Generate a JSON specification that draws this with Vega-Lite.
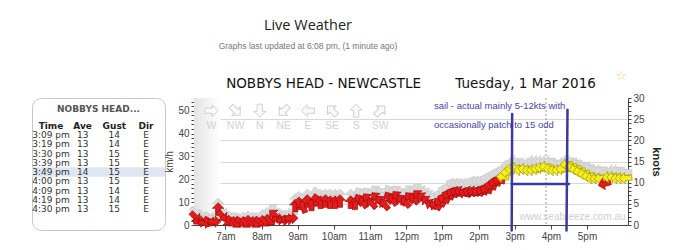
{
  "$schema": "https://vega.github.io/schema/vega-lite/v6.json",
  "background": "white",
  "padding": {"left": 26, "top": 18, "right": 5, "bottom": 5},
  "bounds": "flush",
  "spacing": 29,
  "title": {
    "text": "Live Weather",
    "subtitle": "Graphs last updated at 6:08 pm, (1 minute ago)",
    "font": "Open Sans", "fontSize": 14.5, "fontWeight": "normal", "color": "#222",
    "subtitleFont": "Liberation Sans", "subtitleFontSize": 8.5, "subtitleColor": "#777", "subtitlePadding": 8,
    "anchor": "middle", "dx": -36, "offset": 19
  },
  "config": {"view": {"stroke": null}, "font": "Liberation Sans"},
  "hconcat": [
    {
      "width": 133, "height": 132,
      "view": {"stroke": "#c8c8c8", "cornerRadius": 9, "fill": "white"},
      "title": {"text": "NOBBYS HEAD...", "font": "DejaVu Sans", "fontSize": 9, "fontWeight": "bold", "color": "#555", "offset": -16, "anchor": "middle"},
      "data": {"values": [
        {"row": 0, "Time": "Time", "Ave": "Ave", "Gust": "Gust", "Dir": "Dir"},
        {"row": 1, "Time": "3:09 pm", "Ave": "13", "Gust": "14", "Dir": "E"},
        {"row": 2, "Time": "3:19 pm", "Ave": "13", "Gust": "14", "Dir": "E"},
        {"row": 3, "Time": "3:30 pm", "Ave": "13", "Gust": "15", "Dir": "E"},
        {"row": 4, "Time": "3:39 pm", "Ave": "13", "Gust": "15", "Dir": "E"},
        {"row": 5, "Time": "3:49 pm", "Ave": "14", "Gust": "15", "Dir": "E"},
        {"row": 6, "Time": "4:00 pm", "Ave": "13", "Gust": "15", "Dir": "E"},
        {"row": 7, "Time": "4:09 pm", "Ave": "13", "Gust": "14", "Dir": "E"},
        {"row": 8, "Time": "4:19 pm", "Ave": "13", "Gust": "14", "Dir": "E"},
        {"row": 9, "Time": "4:30 pm", "Ave": "13", "Gust": "15", "Dir": "E"}
      ]},
      "encoding": {
        "y": {"field": "row", "type": "quantitative", "scale": {"domain": [-3, 11.27], "reverse": true, "nice": false, "zero": false}, "axis": null}
      },
      "layer": [
        {
          "transform": [{"filter": "datum.row == 5"}],
          "mark": {"type": "rule", "color": "#dfe6f2", "strokeWidth": 9.5},
          "encoding": {}
        },
        {
          "transform": [{"filter": "datum.row == 0"}, {"fold": ["Time", "Ave", "Gust", "Dir"]}],
          "mark": {"type": "text", "font": "DejaVu Sans", "fontSize": 9, "fontWeight": "bold", "color": "#222"},
          "encoding": {
            "x": {"field": "key", "type": "nominal", "scale": {"type": "point", "domain": ["Time", "Ave", "Gust", "Dir"], "padding": 0.6}, "axis": null},
            "text": {"field": "value"}
          }
        },
        {
          "transform": [{"filter": "datum.row > 0"}, {"fold": ["Time", "Ave", "Gust", "Dir"]}],
          "mark": {"type": "text", "font": "DejaVu Sans", "fontSize": 9, "color": "#333"},
          "encoding": {
            "x": {"field": "key", "type": "nominal", "scale": {"type": "point", "domain": ["Time", "Ave", "Gust", "Dir"], "padding": 0.6}, "axis": null},
            "text": {"field": "value"}
          }
        }
      ]
    },
    {
      "width": 434, "height": 127,
      "title": {"text": "NOBBYS HEAD - NEWCASTLE\u00a0\u00a0\u00a0\u00a0\u00a0\u00a0\u00a0 Tuesday, 1 Mar 2016", "font": "DejaVu Sans", "fontSize": 13.5, "fontWeight": "normal", "color": "#111", "offset": -20, "anchor": "middle"},
      "encoding": {
        "x": {
          "field": "h", "type": "quantitative",
          "scale": {"domain": [6.133, 18.133], "nice": false, "zero": false},
          "axis": {"title": null, "values": [7,8,9,10,11,12,13,14,15,16,17], "labelExpr": "(datum.value % 12 == 0 ? 12 : datum.value % 12) + (datum.value < 12 ? 'am' : 'pm')", "grid": false, "domainColor": "#444", "tickColor": "#444", "tickSize": 4, "labelColor": "#444", "labelFont": "Liberation Sans", "labelFontSize": 10, "labelPadding": 2, "labelFlush": false}
        }
      },
      "resolve": {"scale": {"y": "independent"}},
      "layer": [
        {
          "data": {"values": [{"h": 6.133, "h2": 6.867}]},
          "mark": {"type": "rect", "color": {"gradient": "linear", "x1": 0, "x2": 1, "y1": 0, "y2": 0, "stops": [{"offset": 0, "color": "#e4e4e4"}, {"offset": 1, "color": "#ffffff"}]}},
          "encoding": {"x2": {"field": "h2"}}
        },
        {
          "data": {"values": [{"h": 15.867}]},
          "mark": {"type": "rule", "color": "#999", "strokeDash": [2, 2]},
          "encoding": {}
        },
        {
          "encoding": {
            "y": {"field": "kmh", "type": "quantitative", "scale": {"domain": [0, 55.56], "nice": false},
              "axis": {"title": "km/h", "values": [0,2,4,6,8,10,12,14,16,18,20,22,24,26,28,30,32,34,36,38,40,42,44,46,48,50,52,54], "labelExpr": "datum.value % 10 === 0 ? datum.value : ''", "tickSize": 3, "grid": false, "domainColor": "#444", "tickColor": "#444", "labelColor": "#444", "labelFont": "Liberation Sans", "labelFontSize": 10, "labelPadding": 2, "titleFont": "Liberation Sans", "titleFontSize": 10, "titleFontWeight": "normal", "titleColor": "#444", "titlePadding": 3}}
          },
          "layer": [
            {
              "data": {"values": [
                {"h": 6.617, "kmh": 50, "lab": "W", "dir": 270},
                {"h": 7.283, "kmh": 50, "lab": "NW", "dir": 315},
                {"h": 7.95, "kmh": 50, "lab": "N", "dir": 0},
                {"h": 8.617, "kmh": 50, "lab": "NE", "dir": 45},
                {"h": 9.283, "kmh": 50, "lab": "E", "dir": 90},
                {"h": 9.95, "kmh": 50, "lab": "SE", "dir": 135},
                {"h": 10.617, "kmh": 50, "lab": "S", "dir": 180},
                {"h": 11.283, "kmh": 50, "lab": "SW", "dir": 225}
              ]},
              "layer": [
                {
                  "mark": {"type": "point", "shape": "M0,-1L0.9,-0.1L0.4,-0.1L0.4,1L-0.4,1L-0.4,-0.1L-0.9,-0.1Z", "filled": true, "fill": "#fafafa", "stroke": "#cfcfcf", "strokeWidth": 1, "size": 170, "opacity": 1},
                  "encoding": {"angle": {"field": "dir", "type": "quantitative", "scale": {"domain": [0, 360], "range": [180, 540]}, "legend": null}}
                },
                {
                  "mark": {"type": "text", "font": "Liberation Sans", "fontSize": 10.5, "color": "#d2d2d2", "dy": 15},
                  "encoding": {"text": {"field": "lab"}}
                }
              ]
            },
            {
              "data": {"values": [{"h": 16.6, "kmh": 3.5, "txt": "www.seabreeze.com.au"}]},
              "mark": {"type": "text", "font": "Liberation Sans", "fontSize": 10, "color": "#cfcfcf"},
              "encoding": {"text": {"field": "txt"}}
            },
            {
              "data": {"values": [{"h": 17.95, "kmh": 65, "txt": "☆"}]},
              "mark": {"type": "text", "font": "DejaVu Sans", "fontSize": 13, "color": "#f2c46e"},
              "encoding": {"text": {"field": "txt"}}
            },
            {
              "data": {"name": "wind"},
              "mark": {"type": "point", "shape": "M0,-1L0.9,-0.1L0.4,-0.1L0.4,1L-0.4,1L-0.4,-0.1L-0.9,-0.1Z", "filled": true, "fill": "#dadada", "stroke": "#c6c6c6", "strokeWidth": 0.6, "size": 160, "opacity": 1},
              "encoding": {
                "y": {"field": "gust", "type": "quantitative"},
                "angle": {"field": "dir", "type": "quantitative", "scale": {"domain": [0, 360], "range": [180, 540]}, "legend": null}
              }
            },
            {
              "data": {"name": "wind"},
              "mark": {"type": "point", "shape": "M0,-1L0.9,-0.1L0.4,-0.1L0.4,1L-0.4,1L-0.4,-0.1L-0.9,-0.1Z", "filled": true, "strokeWidth": 0.7, "size": 160, "opacity": 1},
              "encoding": {
                "angle": {"field": "dir", "type": "quantitative", "scale": {"domain": [0, 360], "range": [180, 540]}, "legend": null},
                "fill": {"field": "kmh", "type": "quantitative", "scale": {"type": "threshold", "domain": [20], "range": ["#e41b1b", "#f4ee1c"]}, "legend": null},
                "stroke": {"field": "kmh", "type": "quantitative", "scale": {"type": "threshold", "domain": [20], "range": ["#9e0c0c", "#a89800"]}, "legend": null}
              }
            }
          ]
        },
        {
          "encoding": {
            "y": {"field": "kn", "type": "quantitative", "scale": {"domain": [0, 30], "nice": false},
              "axis": {"orient": "right", "title": "knots", "values": [0,1,2,3,4,5,6,7,8,9,10,11,12,13,14,15,16,17,18,19,20,21,22,23,24,25,26,27,28,29,30], "labelExpr": "datum.value % 5 === 0 ? datum.value : ''", "tickSize": 3, "grid": true, "gridColor": "#d8d8d8", "gridOpacity": {"condition": {"test": "datum.value % 5 === 0 && datum.value > 0 && datum.value < 30", "value": 1}, "value": 0}, "domainColor": "#444", "tickColor": "#444", "labelColor": "#444", "labelFont": "Liberation Sans", "labelFontSize": 10, "labelPadding": 2, "titleFont": "Liberation Sans", "titleFontSize": 11, "titleFontWeight": "bold", "titleColor": "#222", "titleAngle": 90, "titlePadding": 6}}
          },
          "layer": [
            {
              "data": {"values": [
                {"h": 14.917, "h2": 14.93, "kn": -1.3, "kn2": 26.2},
                {"h": 16.433, "h2": 16.46, "kn": -1.3, "kn2": 27.2},
                {"h": 14.917, "h2": 16.5, "kn": 9.7, "kn2": 9.7}
              ]},
              "mark": {"type": "rule", "color": "#3a3a9c", "strokeWidth": 2.5, "strokeCap": "round"},
              "encoding": {"x2": {"field": "h2"}, "y2": {"field": "kn2"}}
            },
            {
              "data": {"values": [
                {"h": 12.767, "kn": 28.1, "txt": "sail - actual mainly 5-12kts with"},
                {"h": 12.767, "kn": 23.6, "txt": "occasionally patch to 15 odd"}
              ]},
              "mark": {"type": "text", "align": "left", "font": "Liberation Sans", "fontSize": 9.5, "color": "#4646a6"},
              "encoding": {"text": {"field": "txt"}}
            }
          ]
        }
      ]
    }
  ],
  "datasets": {
    "wind": [
      {"h": 6.167, "kmh": 3.5, "gust": 5.5, "dir": 315},
      {"h": 6.3, "kmh": 1.5, "gust": 4, "dir": 270},
      {"h": 6.433, "kmh": 1.0, "gust": 3, "dir": 270},
      {"h": 6.567, "kmh": 1.5, "gust": 3.5, "dir": 300},
      {"h": 6.7, "kmh": 1.5, "gust": 3, "dir": 270},
      {"h": 6.8, "kmh": 7.0, "gust": 9, "dir": 180},
      {"h": 6.917, "kmh": 4.0, "gust": 6, "dir": 315},
      {"h": 7.033, "kmh": 2.0, "gust": 4, "dir": 315},
      {"h": 7.167, "kmh": 1.5, "gust": 3.5, "dir": 315},
      {"h": 7.3, "kmh": 1.0, "gust": 3, "dir": 315},
      {"h": 7.433, "kmh": 1.5, "gust": 3, "dir": 300},
      {"h": 7.567, "kmh": 1.0, "gust": 3, "dir": 315},
      {"h": 7.7, "kmh": 1.5, "gust": 3.5, "dir": 315},
      {"h": 7.833, "kmh": 1.0, "gust": 3, "dir": 315},
      {"h": 7.967, "kmh": 1.5, "gust": 3, "dir": 300},
      {"h": 8.1, "kmh": 1.5, "gust": 4, "dir": 315},
      {"h": 8.233, "kmh": 2.0, "gust": 5, "dir": 315},
      {"h": 8.35, "kmh": 4.5, "gust": 7, "dir": 135},
      {"h": 8.467, "kmh": 2.5, "gust": 5, "dir": 270},
      {"h": 8.6, "kmh": 2.0, "gust": 4, "dir": 270},
      {"h": 8.733, "kmh": 2.5, "gust": 5, "dir": 270},
      {"h": 8.833, "kmh": 3.0, "gust": 5, "dir": 270},
      {"h": 8.933, "kmh": 8.5, "gust": 11, "dir": 180},
      {"h": 9.033, "kmh": 9.5, "gust": 12, "dir": 180},
      {"h": 9.15, "kmh": 8.0, "gust": 11, "dir": 160},
      {"h": 9.267, "kmh": 10.5, "gust": 13, "dir": 180},
      {"h": 9.383, "kmh": 9.0, "gust": 12, "dir": 180},
      {"h": 9.5, "kmh": 11.0, "gust": 14, "dir": 170},
      {"h": 9.633, "kmh": 10.0, "gust": 13, "dir": 180},
      {"h": 9.767, "kmh": 10.5, "gust": 13, "dir": 180},
      {"h": 9.9, "kmh": 10.0, "gust": 13, "dir": 180},
      {"h": 10.033, "kmh": 10.0, "gust": 13, "dir": 180},
      {"h": 10.167, "kmh": 10.5, "gust": 13, "dir": 180},
      {"h": 10.467, "kmh": 10.0, "gust": 13, "dir": 180},
      {"h": 10.583, "kmh": 9.5, "gust": 12, "dir": 180},
      {"h": 10.7, "kmh": 11.0, "gust": 14, "dir": 150},
      {"h": 10.817, "kmh": 10.0, "gust": 13, "dir": 150},
      {"h": 10.933, "kmh": 11.5, "gust": 14, "dir": 140},
      {"h": 11.05, "kmh": 9.5, "gust": 13, "dir": 140},
      {"h": 11.167, "kmh": 12.0, "gust": 15, "dir": 140},
      {"h": 11.283, "kmh": 10.5, "gust": 14, "dir": 140},
      {"h": 11.4, "kmh": 9.0, "gust": 12, "dir": 140},
      {"h": 11.517, "kmh": 12.0, "gust": 15, "dir": 150},
      {"h": 11.633, "kmh": 11.0, "gust": 14, "dir": 145},
      {"h": 11.75, "kmh": 12.5, "gust": 15, "dir": 140},
      {"h": 11.867, "kmh": 11.0, "gust": 14, "dir": 140},
      {"h": 11.983, "kmh": 10.0, "gust": 13, "dir": 140},
      {"h": 12.1, "kmh": 12.0, "gust": 15, "dir": 140},
      {"h": 12.217, "kmh": 11.5, "gust": 15, "dir": 140},
      {"h": 12.333, "kmh": 13.0, "gust": 16, "dir": 135},
      {"h": 12.45, "kmh": 12.0, "gust": 15, "dir": 130},
      {"h": 12.567, "kmh": 10.5, "gust": 14, "dir": 130},
      {"h": 12.683, "kmh": 9.0, "gust": 13, "dir": 120},
      {"h": 12.8, "kmh": 8.5, "gust": 12, "dir": 120},
      {"h": 12.917, "kmh": 10.0, "gust": 13, "dir": 120},
      {"h": 13.033, "kmh": 11.5, "gust": 15, "dir": 115},
      {"h": 13.15, "kmh": 13.0, "gust": 16, "dir": 115},
      {"h": 13.267, "kmh": 14.0, "gust": 18, "dir": 115},
      {"h": 13.383, "kmh": 14.5, "gust": 18, "dir": 115},
      {"h": 13.5, "kmh": 14.5, "gust": 18, "dir": 110},
      {"h": 13.617, "kmh": 14.0, "gust": 18, "dir": 110},
      {"h": 13.733, "kmh": 14.5, "gust": 18, "dir": 110},
      {"h": 13.85, "kmh": 14.5, "gust": 19, "dir": 110},
      {"h": 13.967, "kmh": 14.5, "gust": 19, "dir": 110},
      {"h": 14.083, "kmh": 15.0, "gust": 19, "dir": 110},
      {"h": 14.2, "kmh": 15.5, "gust": 20, "dir": 110},
      {"h": 14.317, "kmh": 17.0, "gust": 21, "dir": 105},
      {"h": 14.433, "kmh": 18.5, "gust": 22, "dir": 100},
      {"h": 14.55, "kmh": 19.5, "gust": 23, "dir": 100},
      {"h": 14.667, "kmh": 21.0, "gust": 24, "dir": 95},
      {"h": 14.783, "kmh": 23.0, "gust": 26, "dir": 90},
      {"h": 14.9, "kmh": 24.5, "gust": 27, "dir": 90},
      {"h": 15.017, "kmh": 25.0, "gust": 28, "dir": 90},
      {"h": 15.15, "kmh": 24.0, "gust": 26, "dir": 90},
      {"h": 15.267, "kmh": 24.5, "gust": 27, "dir": 90},
      {"h": 15.383, "kmh": 24.0, "gust": 27, "dir": 90},
      {"h": 15.5, "kmh": 24.0, "gust": 28, "dir": 90},
      {"h": 15.617, "kmh": 24.5, "gust": 28, "dir": 90},
      {"h": 15.733, "kmh": 25.0, "gust": 28, "dir": 90},
      {"h": 15.85, "kmh": 25.5, "gust": 28, "dir": 90},
      {"h": 15.967, "kmh": 24.5, "gust": 28, "dir": 90},
      {"h": 16.083, "kmh": 24.0, "gust": 27, "dir": 90},
      {"h": 16.2, "kmh": 24.0, "gust": 26, "dir": 90},
      {"h": 16.317, "kmh": 24.5, "gust": 27, "dir": 90},
      {"h": 16.433, "kmh": 26.5, "gust": 28, "dir": 85},
      {"h": 16.55, "kmh": 25.5, "gust": 28, "dir": 85},
      {"h": 16.667, "kmh": 24.5, "gust": 27, "dir": 80},
      {"h": 16.783, "kmh": 23.5, "gust": 26, "dir": 80},
      {"h": 16.9, "kmh": 22.5, "gust": 26, "dir": 80},
      {"h": 17.017, "kmh": 21.5, "gust": 25, "dir": 80},
      {"h": 17.133, "kmh": 20.5, "gust": 24, "dir": 80},
      {"h": 17.25, "kmh": 20.5, "gust": 24, "dir": 80},
      {"h": 17.367, "kmh": 20.5, "gust": 24, "dir": 80},
      {"h": 17.483, "kmh": 18.0, "gust": 22, "dir": 75},
      {"h": 17.6, "kmh": 21.0, "gust": 23, "dir": 85},
      {"h": 17.717, "kmh": 21.0, "gust": 24, "dir": 85},
      {"h": 17.833, "kmh": 20.5, "gust": 24, "dir": 85},
      {"h": 17.95, "kmh": 20.5, "gust": 23, "dir": 85},
      {"h": 18.067, "kmh": 20.5, "gust": 23, "dir": 85}
    ]
  }
}
